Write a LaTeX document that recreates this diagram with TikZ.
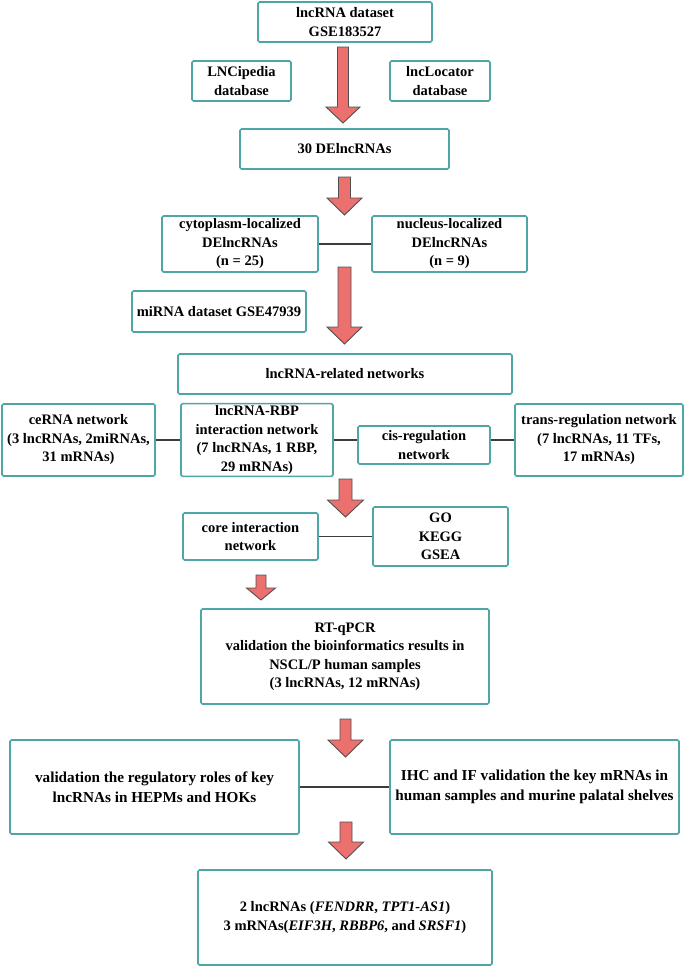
\documentclass[tikz,border=0pt]{standalone}
\usepackage{fontspec}
\setmainfont{Liberation Serif}
\definecolor{boxc}{RGB}{80,165,165}
\definecolor{arrf}{RGB}{236,112,110}
\definecolor{arrd}{RGB}{80,80,80}
\definecolor{linec}{RGB}{60,60,60}
\tikzset{
  box/.style={draw=boxc, line width=1.6pt, rounded corners=1.5pt, fill=white,
    align=center, inner sep=2pt, font=\fontsize{14.5}{18.5}\selectfont\bfseries},
  bigtext/.style={font=\fontsize{15.2}{20}\selectfont\bfseries},
  link/.style={draw=linec, line width=1.3pt},
  barr/.style={fill=arrf, draw=arrd, line width=0.9pt, line join=miter}
}
\newcommand\blockarr[6]{% x, ytop, yheadtop, ytip, shafthalf, headhalf
  \draw[barr] (#1-#5,#2) -- (#1+#5,#2) -- (#1+#5,#3) -- (#1+#6,#3) -- (#1,#4)
    -- (#1-#6,#3) -- (#1-#5,#3) -- cycle;}
\begin{document}
\begin{tikzpicture}[x=1pt,y=-1pt]
\useasboundingbox (0,0) rectangle (685,967);
\fill[white] (0,0) rectangle (685,967);

\node[box, minimum width=174pt, minimum height=40pt] (ds) at (345,22) {lncRNA dataset\\GSE183527};
\node[box, minimum width=99pt, minimum height=40pt] (lnc) at (241.5,81) {LNCipedia\\database};
\node[box, minimum width=100pt, minimum height=40pt] (loc) at (440,81) {lncLocator\\database};
\node[box, minimum width=209pt, minimum height=40pt] (de) at (344.5,149) {30 DElncRNAs};
\node[box, minimum width=156pt, minimum height=56pt] (cyto) at (240,244) {cytoplasm-localized\\DElncRNAs\\(n = 25)};
\node[box, minimum width=155pt, minimum height=56pt] (nuc) at (449.5,244) {nucleus-localized\\DElncRNAs\\(n = 9)};
\node[box, minimum width=174pt, minimum height=41pt] (mir) at (219,311.5) {miRNA dataset GSE47939};
\node[box, minimum width=334pt, minimum height=40pt] (net) at (345,374) {lncRNA-related networks};
\node[box, minimum width=153pt, minimum height=72pt] (ce) at (78.5,440) {ceRNA network\\(3 lncRNAs, 2miRNAs,\\31 mRNAs)};
\node[box, minimum width=152pt, minimum height=72pt] (rbp) at (257,440) {lncRNA-RBP\\interaction network\\(7 lncRNAs, 1 RBP,\\29 mRNAs)};
\node[box, minimum width=132pt, minimum height=38pt] (cis) at (424,445) {cis-regulation\\network};
\node[box, minimum width=168pt, minimum height=72pt] (trans) at (599,440) {trans-regulation network\\(7 lncRNAs, 11 TFs,\\17 mRNAs)};
\node[box, minimum width=135pt, minimum height=47pt] (core) at (250.5,536.5) {core interaction\\network};
\node[box, minimum width=135pt, minimum height=59pt] (go) at (440.5,536.5) {GO\\KEGG\\GSEA};
\node[box, minimum width=288pt, minimum height=95pt] (rt) at (345,656.5) {RT-qPCR\\validation the bioinformatics results in\\NSCL/P human samples\\(3 lncRNAs, 12 mRNAs)};
\node[box, bigtext, minimum width=289pt, minimum height=94pt] (val) at (154.5,787) {validation the regulatory roles of key\\lncRNAs in HEPMs and HOKs};
\node[box, bigtext, minimum width=289pt, minimum height=94pt] (ihc) at (534.5,787) {IHC and IF validation the key mRNAs in\\human samples and murine palatal shelves};
\node[box, minimum width=294pt, minimum height=95pt] (fin) at (345,917.5) {2 lncRNAs (\textit{FENDRR}, \textit{TPT1-AS1})\\3 mRNAs(\textit{EIF3H}, \textit{RBBP6}, and \textit{SRSF1})};

\draw[link] (cyto.east) -- (nuc.west);
\draw[link] (ce.east) -- (rbp.west);
\draw[link] (rbp.east) -- (rbp.east -| cis.west);
\draw[link] (cis.east |- trans.west) -- (trans.west);
\draw[link] (core.east) -- (go.west);
\draw[link] (val.east) -- (ihc.west);

\blockarr{343}{47}{107}{123}{5.5}{17}
\blockarr{344.5}{177}{198}{215}{6}{17.5}
\blockarr{344.5}{267}{327}{344}{6.5}{17.5}
\blockarr{345.5}{479}{500}{517}{6.5}{18}
\blockarr{261}{575}{588}{600}{5}{14.5}
\blockarr{345.5}{719}{740}{757}{5.5}{17.5}
\blockarr{346}{822}{842}{859}{6}{17.5}
\end{tikzpicture}
\end{document}
